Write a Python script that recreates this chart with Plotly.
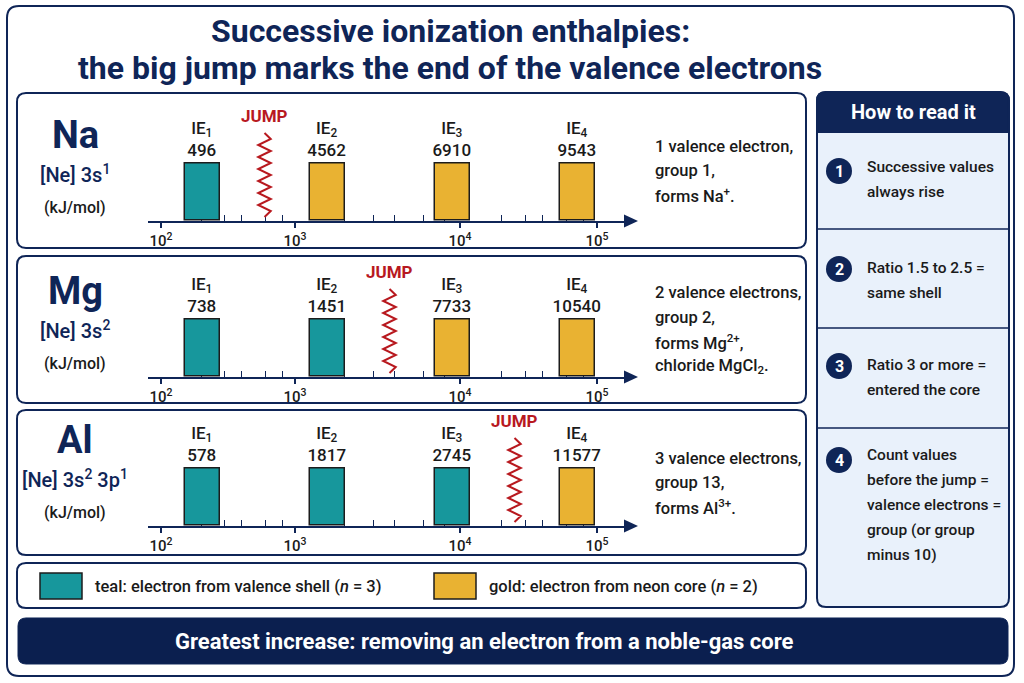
import math
import plotly.graph_objects as go

# ---- data ----
elements = ["Na", "Mg", "Al"]
configs = ["[Ne] 3s<sup>1</sup>", "[Ne] 3s<sup>2</sup>", "[Ne] 3s<sup>2</sup> 3p<sup>1</sup>"]
ionization_numbers = [1, 2, 3, 4]
na_ie = [496, 4562, 6910, 9543]
mg_ie = [738, 1451, 7733, 10540]
al_ie = [578, 1817, 2745, 11577]
valence_counts = [1, 2, 3]
bar_level = [1, 1, 1, 1]  # schematic chart: every bar drawn at the same height
decade_labels = ["10<sup>2</sup>", "10<sup>3</sup>", "10<sup>4</sup>", "10<sup>5</sup>"]
notes = [
    ["1 valence electron,", "group 1,", "forms Na<sup>+</sup>."],
    ["2 valence electrons,", "group 2,", "forms Mg<sup>2+</sup>,", "chloride MgCl<sub>2</sub>."],
    ["3 valence electrons,", "group 13,", "forms Al<sup>3+</sup>."],
]
steps = [
    ["Successive values", "always rise"],
    ["Ratio 1.5 to 2.5 =", "same shell"],
    ["Ratio 3 or more =", "entered the core"],
    ["Count values", "before the jump =", "valence electrons =", "group (or group", "minus 10)"],
]
legend_labels = ["teal: electron from valence shell (<i>n</i> = 3)",
                 "gold: electron from neon core (<i>n</i> = 2)"]
title_lines = ["Successive ionization enthalpies:",
               "the big jump marks the end of the valence electrons"]
footer = "Greatest increase: removing an electron from a noble-gas core"

# ---- styles ----
W, H = 1024, 683
NAVY = "#0f2557"
TEAL = "#17979c"
GOLD = "#e9b232"
RED = "#b8191f"
INK = "#1a1a1a"
FONT = "Roboto"


def px(x):
    return x / W


def py(y):
    return 1 - y / H


def label(text, x, y, size, color=INK, xanchor="center", weight=None, ref=("paper", "paper")):
    f = dict(family=FONT, size=size, color=color)
    if weight:
        f["weight"] = weight
    if ref == ("paper", "paper"):
        x, y = px(x), py(y)
    return dict(text=text, x=x, y=y, xref=ref[0], yref=ref[1], xanchor=xanchor, yanchor="middle",
                showarrow=False, font=f)


def rrect(x0, y0, x1, y1, r, r_bottom=None):
    rb = r if r_bottom is None else r_bottom
    pts = [
        ("M", [(x0 + r, y0)]), ("L", [(x1 - r, y0)]), ("Q", [(x1, y0), (x1, y0 + r)]),
        ("L", [(x1, y1 - rb)]), ("Q", [(x1, y1), (x1 - rb, y1)]),
        ("L", [(x0 + rb, y1)]), ("Q", [(x0, y1), (x0, y1 - rb)]),
        ("L", [(x0, y0 + r)]), ("Q", [(x0, y0), (x0 + r, y0)]),
    ]
    out = ""
    for cmd, ps in pts:
        out += cmd + " ".join(f"{px(a):.5f},{py(b):.5f}" for a, b in ps) + " "
    return out + "Z"


fig = go.Figure()
shapes = []
annotations = []

# outer frame
shapes.append(dict(type="path", path=rrect(7, 6, 1014, 676, 12), xref="paper", yref="paper",
                   line=dict(color=NAVY, width=2), fillcolor="white", layer="below"))

for line, y in zip(title_lines, [31, 68]):
    annotations.append(label(f"<b>{line}</b>", 450, y, 32, NAVY))

all_ie = [na_ie, mg_ie, al_ie]
axis_y = [221, 377, 526]
boxes = [(93, 248), (256, 403), (410, 555)]
unit = 57
y_top = 2.2
x_left, x_right = 148, 626
x_range = [(x_left - 77) / 125, (x_right - 77) / 125]
decade_pos = [0.672, 1.744, 3.064, 4.16]
minor_pos = [a + (b - a) * math.log10(k) for a, b in zip(decade_pos, decade_pos[1:]) for k in (2, 3, 4, 6, 8)]

for i, (name, cfg, ie, nval) in enumerate(zip(elements, configs, all_ie, valence_counts)):
    n = i + 1
    sfx = "" if n == 1 else str(n)
    ay = axis_y[i]
    top, bottom = boxes[i]
    shapes.append(dict(type="path", path=rrect(17, top, 806, bottom, 9), xref="paper", yref="paper",
                       line=dict(color=NAVY, width=2), fillcolor="white", layer="below"))

    colors = [TEAL if k <= nval else GOLD for k in ionization_numbers]
    fig.add_trace(go.Bar(
        x=ionization_numbers, y=bar_level, width=0.28,
        marker=dict(color=colors, line=dict(color="#1c1c1c", width=1.5)),
        text=[f"IE<sub>{k}</sub><br>{v}" for k, v in zip(ionization_numbers, ie)],
        textposition="outside", constraintext="none", cliponaxis=False,
        textfont=dict(family=FONT, size=17, color=INK, weight=500),
        xaxis="x" + sfx, yaxis="y" + sfx, showlegend=False, hoverinfo="skip",
    ))

    fig.update_layout(**{
        "xaxis" + sfx: dict(domain=[px(x_left), px(x_right)], range=x_range, anchor="y" + sfx,
                            showgrid=False, zeroline=False, showline=True, linecolor=NAVY, linewidth=2,
                            ticks="outside", ticklen=5, tickwidth=1.5, tickcolor=NAVY,
                            tickmode="array", tickvals=decade_pos, ticktext=decade_labels,
                            tickfont=dict(family=FONT, size=15, color=INK, weight=500),
                            minor=dict(tickmode="array", tickvals=minor_pos, ticks="inside",
                                       ticklen=6, tickwidth=1.2, tickcolor=NAVY),
                            layer="below traces", fixedrange=True),
        "yaxis" + sfx: dict(domain=[py(ay), py(ay - unit * y_top)], range=[0, y_top], anchor="x" + sfx,
                            visible=False, fixedrange=True),
    })

    # arrow head at the end of the axis
    shapes.append(dict(type="path", xref="paper", yref="paper", fillcolor=NAVY, line=dict(width=0),
                       path=f"M{px(x_right - 2)},{py(ay - 6.5)} L{px(x_right + 12)},{py(ay)} "
                            f"L{px(x_right - 2)},{py(ay + 6.5)} Z"))

    # jump zigzag between last valence and first core electron
    cx = nval + 0.5
    y0, y1 = 4 / unit, 88 / unit
    segs = 14
    amp = 0.05
    pts = [f"M{cx},{y0}"]
    for s in range(1, segs + 1):
        xx = cx + (amp if s % 2 else -amp) if s < segs else cx
        pts.append(f"L{xx:.4f},{y0 + (y1 - y0) * s / segs:.4f}")
    shapes.append(dict(type="path", path=" ".join(pts), xref="x" + sfx, yref="y" + sfx,
                       line=dict(color=RED, width=2)))
    annotations.append(label("<b>JUMP</b>", cx, 105 / unit, 17, RED, ref=("x" + sfx, "y" + sfx)))

    # element labels
    annotations.append(label(f"<b>{name}</b>", 75, ay - 86, 38, NAVY))
    annotations.append(label(cfg, 75, ay - 47, 20, NAVY, weight=500))
    annotations.append(label("(kJ/mol)", 75, ay - 14, 16, INK, weight=500))

    # notes on the right
    mid = (top + bottom) / 2
    lines = notes[i]
    for j, t in enumerate(lines):
        yy = mid + (j - (len(lines) - 1) / 2) * 24.5
        annotations.append(label(t, 653, yy, 16.5, INK, xanchor="left", weight=500))

# legend strip
shapes.append(dict(type="path", path=rrect(17, 563, 806, 608, 9), xref="paper", yref="paper",
                   line=dict(color=NAVY, width=2), fillcolor="white", layer="below"))
for (sx, tx), col, lab in zip([(40, 93), (434, 487)], [TEAL, GOLD], legend_labels):
    shapes.append(dict(type="rect", x0=px(sx), x1=px(sx + 42), y0=py(599), y1=py(573), xref="paper",
                       yref="paper", fillcolor=col, line=dict(color="#1c1c1c", width=1.5)))
    annotations.append(label(lab, tx, 586, 16.5, INK, xanchor="left", weight=500))

# right "how to read it" panel
shapes.append(dict(type="path", path=rrect(817, 92, 1009, 607, 9), xref="paper", yref="paper",
                   line=dict(color=NAVY, width=2), fillcolor="#e9f1fb", layer="below"))
shapes.append(dict(type="path", path=rrect(817, 92, 1009, 132, 9, 0), xref="paper", yref="paper",
                   line=dict(color=NAVY, width=2), fillcolor=NAVY, layer="below"))
annotations.append(label("<b>How to read it</b>", 913, 112, 20, "white"))
for sep in [229, 328, 428]:
    shapes.append(dict(type="line", x0=px(818), x1=px(1008), y0=py(sep), y1=py(sep), xref="paper",
                       yref="paper", line=dict(color=NAVY, width=1.5)))
first_line = [167, 268, 365, 455]
for k, (lines, fy) in enumerate(zip(steps, first_line)):
    cy = fy + 5 if len(lines) > 2 else fy + (4 if k == 0 else 1)
    shapes.append(dict(type="circle", x0=px(826), x1=px(852), y0=py(cy - 13), y1=py(cy + 13),
                       xref="paper", yref="paper", fillcolor=NAVY, line=dict(width=0)))
    annotations.append(label(f"<b>{k + 1}</b>", 839, cy, 16, "white"))
    for j, t in enumerate(lines):
        annotations.append(label(t, 865, fy + 25 * j, 15.5, INK, xanchor="left", weight=500))

# footer banner
shapes.append(dict(type="path", path=rrect(18, 618, 1008, 664, 8), xref="paper", yref="paper",
                   line=dict(color=NAVY, width=1), fillcolor="#0b1f4f", layer="below"))
annotations.append(label(f"<b>{footer}</b>", 484, 641, 22, "white"))

fig.update_layout(
    width=W, height=H, margin=dict(l=0, r=0, t=0, b=0),
    paper_bgcolor="white", plot_bgcolor="rgba(0,0,0,0)",
    shapes=shapes, annotations=annotations, font=dict(family=FONT),
    bargap=0,
)

fig.write_html("out.html", config={"displayModeBar": False},
               post_script="document.body.style.margin='0';")
